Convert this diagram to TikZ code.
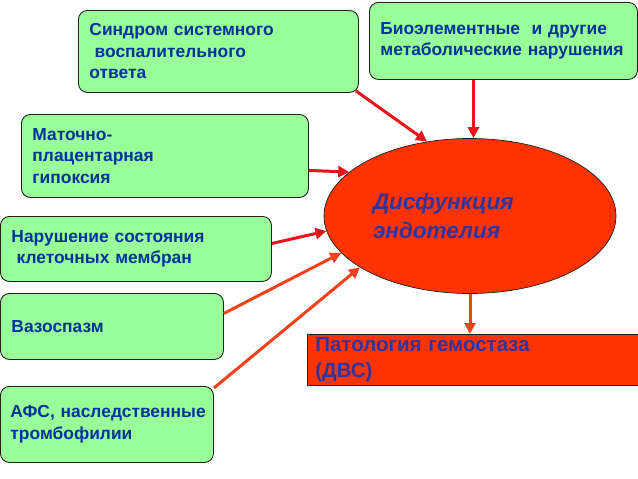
\documentclass[tikz,border=0pt]{standalone}
\usepackage{fontspec}
\setmainfont{Liberation Sans}
\usepackage{tikz}
\usetikzlibrary{
  arrows.meta,
  positioning,
  shapes.geometric
}
\definecolor{ink}{HTML}{1F1F1F}
\definecolor{textblue}{HTML}{003399}
\definecolor{textviolet}{HTML}{333399}
\definecolor{greenbox}{HTML}{99FF99}
\definecolor{hot}{HTML}{FF3300}
\definecolor{redline}{HTML}{E8141B}
\definecolor{orangeline}{HTML}{F2421C}
\tikzset{
  cause/.style={
    draw=ink,
    fill=greenbox,
    line width=0.9pt,
    rounded corners=9pt,
    anchor=north west,
    inner xsep=11pt,
    align=left,
    text=textblue,
    font=\fontsize{17.4}{21.5}\selectfont\bfseries
  },
  redflow/.style={
    -{Triangle[length=11pt,width=11pt]},
    line width=3pt,
    draw=redline
  },
  orangeflow/.style={
    redflow,
    draw=orangeline
  }
}

\begin{document}
\begin{tikzpicture}[x=1pt,y=-1pt]
    \useasboundingbox (0,0) rectangle (638,479);
    % causes
    \node[cause, minimum width=280pt, minimum height=82pt, text width=258pt] (sirs) at (78,10) {
      Синдром системного\\
      \hspace{0.3em}воспалительного\\
      ответа
    };
    \node[cause, minimum width=268pt, minimum height=77pt, text width=246pt] (bio) at (369,2) {
      Биоэлементные \ и другие\\
      метаболические нарушения
    };
    \node[cause, minimum width=287pt, minimum height=83pt, text width=265pt] (hypox) at (21,114) {
      Маточно-\\
      плацентарная\\
      гипоксия
    };
    \node[cause, minimum width=271pt, minimum height=65pt, text width=249pt] (membr) at (0,216) {
      Нарушение состояния\\
      \hspace{0.3em}клеточных мембран
    };
    \node[cause, minimum width=223pt, minimum height=66pt, text width=201pt] (spasm) at (0,293) {
      Вазоспазм
    };
    \node[cause, minimum width=213pt, minimum height=76pt, text width=203pt,
      inner xsep=5pt] (afs) at (0,386) {
      \hspace{5pt}АФС, наследственные\\
      \hspace{5pt}тромбофилии
    };
    % center
    \node[ellipse, draw=ink, fill=hot, line width=0.7pt,
      minimum width=292pt, minimum height=155pt,
      text width=194pt, align=left, text=textviolet,
      font=\fontsize{22.5}{29}\selectfont\bfseries\itshape] (endo) at (470,216) {
      Дисфункция\\
      эндотелия
    };
    \node[draw=ink, fill=hot, line width=0.7pt, anchor=north west,
      minimum width=331pt, minimum height=51pt,
      text width=315pt, inner xsep=8pt, align=left, text=textviolet,
      font=\fontsize{20.5}{26}\selectfont\bfseries] (hemo) at (307,334) {
      Патология гемостаза\\
      (ДВС)
    };
    % arrows
    \draw[redflow] ([shift={(-3pt,2pt)}]sirs.south east) -- (endo.120);
    \draw[redflow] ([xshift=-30pt]bio.south) -- ([xshift=-30pt]bio.south |- endo.north);
    \draw[redflow] ([yshift=-14.5pt]hypox.east) -- (endo.160);
    \draw[redflow] ([yshift=5.5pt]membr.east) -- (endo.186);
    \draw[orangeflow] ([yshift=13pt]spasm.east) -- (endo.196);
    \draw[orangeflow] ([yshift=-2pt]afs.north east) -- (endo.205);
    \draw[orangeflow] (endo.south) -- (endo.south |- hemo.north);
  \end{tikzpicture}
\end{document}
